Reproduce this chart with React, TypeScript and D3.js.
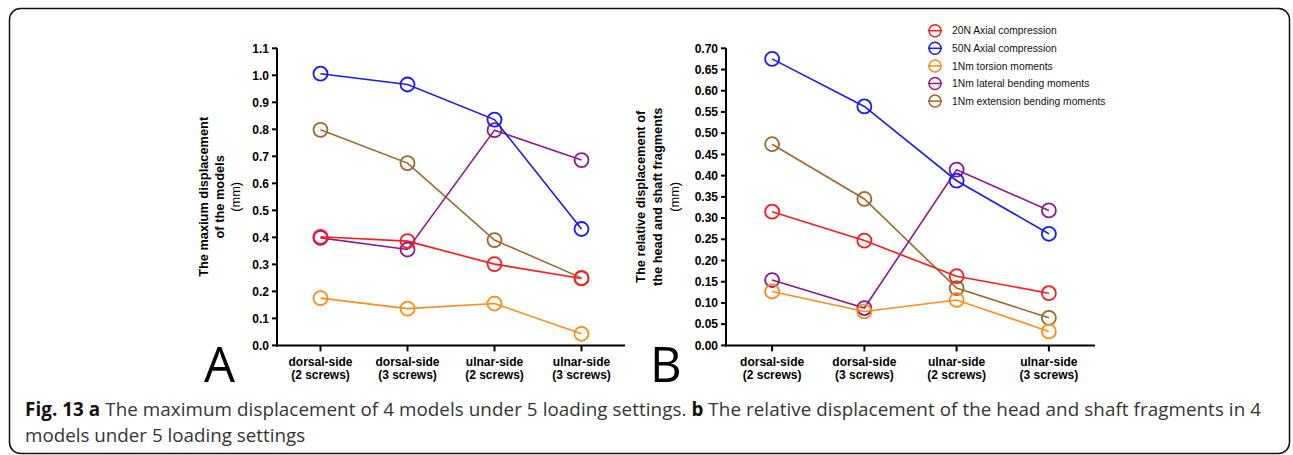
import React from "react";
import * as d3 from "d3";

// four fixation models on the x axis (two label lines each)
const categories = [
  ["dorsal-side", "(2 screws)"],
  ["dorsal-side", "(3 screws)"],
  ["ulnar-side", "(2 screws)"],
  ["ulnar-side", "(3 screws)"],
];

const seriesNames = [
  "20N Axial compression",
  "50N Axial compression",
  "1Nm torsion moments",
  "1Nm lateral bending moments",
  "1Nm extension bending moments",
];
const seriesColors = ["#ff1a1a", "#1a1aff", "#ff8c1a", "#8c1a8c", "#a0662e"];
// drawing order: later ones sit on top
const drawOrder = [4, 3, 2, 0, 1];

// panel A: maximum displacement (mm)
const maxDisplacement = [
  [0.402, 0.386, 0.301, 0.248],
  [1.006, 0.966, 0.836, 0.431],
  [0.175, 0.136, 0.155, 0.043],
  [0.398, 0.355, 0.797, 0.686],
  [0.798, 0.675, 0.39, 0.25],
];
// panel B: relative displacement of head and shaft fragments (mm)
const relDisplacement = [
  [0.315, 0.247, 0.163, 0.123],
  [0.675, 0.563, 0.388, 0.263],
  [0.127, 0.08, 0.107, 0.033],
  [0.154, 0.088, 0.414, 0.318],
  [0.474, 0.345, 0.135, 0.065],
];

const ticksA = [0, 0.1, 0.2, 0.3, 0.4, 0.5, 0.6, 0.7, 0.8, 0.9, 1.0, 1.1];
const ticksB = [0, 0.05, 0.1, 0.15, 0.2, 0.25, 0.3, 0.35, 0.4, 0.45, 0.5, 0.55, 0.6, 0.65, 0.7];

const titleA = ["The maxium displacement", "of the models", "(mm)"];
const titleB = ["The relative displacement of", "the head and shaft fragments", "(mm)"];

const FONT = "'Liberation Sans', Arial, sans-serif";
const CAPTION_FONT = "'Open Sans', 'Noto Sans', sans-serif";

type PanelProps = {
  data: number[][];
  ticks: number[];
  fmt: string;
  left: number;
  right: number;
  title: string[];
  titleX: number;
  titleStep: number;
  letter: string;
  letterX: number;
};

const TOP = 48.3;
const BOTTOM = 345.4;

function Panel({ data, ticks, fmt, left, right, title, titleX, titleStep, letter, letterX }: PanelProps) {
  const x = d3.scalePoint<number>().domain(d3.range(categories.length)).range([left, right]).padding(0.5);
  const y = d3.scaleLinear().domain([0, d3.max(ticks)!]).range([BOTTOM, TOP]);
  const line = d3
    .line<number>()
    .x((_, i) => x(i)!)
    .y((d) => y(d));
  const f = d3.format(fmt);
  const cy = (TOP + BOTTOM) / 2;

  return (
    <g>
      {/* axes */}
      <line x1={left} x2={left} y1={y(0) + 1} y2={y(d3.max(ticks)!)} stroke="#000" strokeWidth={2} />
      <line x1={left - 1} x2={right} y1={y(0)} y2={y(0)} stroke="#000" strokeWidth={2} />
      {ticks.map((t) => (
        <g key={t}>
          <line x1={left - 5} x2={left} y1={y(t)} y2={y(t)} stroke="#000" strokeWidth={2} />
          <text
            x={left - 8}
            y={y(t)}
            dy="0.35em"
            textAnchor="end"
            fontFamily={FONT}
            fontWeight="bold"
            fontSize={12}
          >
            {f(t)}
          </text>
        </g>
      ))}
      {categories.map((c, i) => (
        <g key={i}>
          <line x1={x(i)} x2={x(i)} y1={y(0)} y2={y(0) + 6} stroke="#000" strokeWidth={2} />
          <text x={x(i)} y={366} textAnchor="middle" fontFamily={FONT} fontWeight="bold" fontSize={12}>
            {c[0]}
          </text>
          <text x={x(i)} y={379} textAnchor="middle" fontFamily={FONT} fontWeight="bold" fontSize={12}>
            {c[1]}
          </text>
        </g>
      ))}

      {/* axis title */}
      <g transform={`translate(${titleX},${cy}) rotate(-90)`}>
        {title.map((t, i) => (
          <text
            key={i}
            x={0}
            y={i * titleStep}
            textAnchor="middle"
            fontFamily={FONT}
            fontWeight={i < 2 ? "bold" : "normal"}
            fontSize={12.8}
          >
            {t}
          </text>
        ))}
      </g>

      {/* series */}
      {drawOrder.map((s) => (
        <g key={s}>
          <path d={line(data[s]) || ""} fill="none" stroke={seriesColors[s]} strokeWidth={1.6} />
          {data[s].map((v, i) => (
            <circle key={i} cx={x(i)} cy={y(v)} r={7} fill="none" stroke={seriesColors[s]} strokeWidth={1.8} />
          ))}
        </g>
      ))}

      {/* panel letter */}
      <text x={letterX} y={382} fontFamily={CAPTION_FONT} fontSize={49}>
        {letter}
      </text>
    </g>
  );
}

function Legend({ x, y0 }: { x: number; y0: number }) {
  const step = 17.6;
  return (
    <g>
      {seriesNames.map((n, i) => (
        <g key={n} transform={`translate(${x},${y0 + i * step})`}>
          <line x1={-7} x2={7} y1={0} y2={0} stroke={seriesColors[i]} strokeWidth={1.5} />
          <circle r={6} fill="none" stroke={seriesColors[i]} strokeWidth={1.5} />
          <text x={17} dy="0.35em" fontFamily={FONT} fontSize={10.3} fill="#111">
            {n}
          </text>
        </g>
      ))}
    </g>
  );
}

export default function App() {
  return (
    <svg
      width={1293}
      height={455}
      style={{ position: "absolute", left: 0, top: 0, background: "#fff" }}
    >
      <rect x={9.5} y={8.5} width={1280} height={445} rx={11} fill="#fff" stroke="#111" strokeWidth={1.5} />
      <Panel
        data={maxDisplacement}
        ticks={ticksA}
        fmt=".1f"
        left={277}
        right={625}
        title={titleA}
        titleX={208}
        titleStep={16}
        letter="A"
        letterX={204}
      />
      <Panel
        data={relDisplacement}
        ticks={ticksB}
        fmt=".2f"
        left={726}
        right={1095}
        title={titleB}
        titleX={645}
        titleStep={17}
        letter="B"
        letterX={650}
      />
      <Legend x={935} y0={30.7} />
      <text
        x={25}
        y={416}
        fontFamily={CAPTION_FONT}
        fontSize={18.8}
        fill="#333"
        textLength={1236}
        lengthAdjust="spacing"
      >
        <tspan fontWeight="bold" fill="#111">Fig. 13 a</tspan> The maximum displacement of 4 models under 5 loading
        settings. <tspan fontWeight="bold" fill="#111">b</tspan> The relative displacement of the head and shaft
        fragments in 4
      </text>
      <text x={25} y={442} fontFamily={CAPTION_FONT} fontSize={18.8} fill="#333">
        models under 5 loading settings
      </text>
    </svg>
  );
}
